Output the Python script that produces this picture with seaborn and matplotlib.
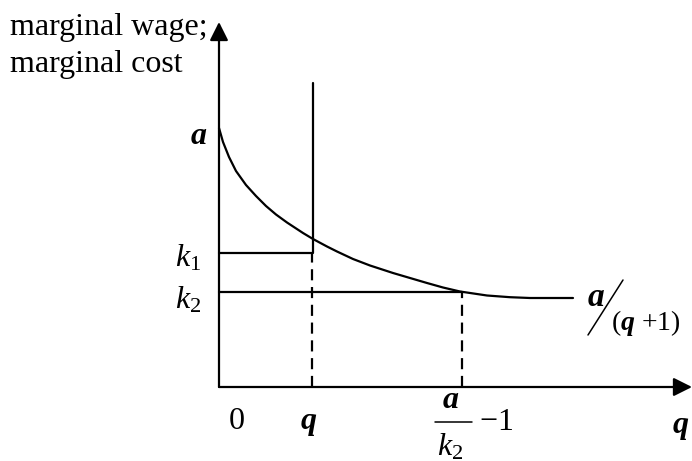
import matplotlib
matplotlib.use('Agg')
import matplotlib.pyplot as plt
import seaborn as sns
import pandas as pd

# curve (x = distance from vertical axis, y = height above horizontal axis)
curve_x = [0, 4, 10, 17, 27, 37, 47, 57, 68, 84, 94, 108, 118, 134, 151,
           174, 191, 208, 224, 241, 268, 291, 311, 354]
curve_y = [259, 245, 230, 216, 202, 191, 181, 172.5, 164.5, 154, 148, 140.5, 135.5, 128, 121.5,
           114, 109, 104, 99.5, 95.5, 91.5, 89.8, 89, 89]

q_val = 94        # theta
k1 = 134
k2 = 95
theta2 = 243      # alpha/k2 - 1
mc_top = 304      # top of the vertical marginal cost segment
x_end = 473
y_end = 365

sns.set_theme(style='white')
plt.rcParams['font.family'] = ['Liberation Serif', 'DejaVu Serif']
plt.rcParams['text.color'] = 'black'
plt.rcParams['mathtext.fontset'] = 'custom'
plt.rcParams['mathtext.rm'] = 'Liberation Serif'
plt.rcParams['mathtext.it'] = 'Liberation Serif:italic'
plt.rcParams['mathtext.bf'] = 'Liberation Serif:bold'
plt.rcParams['mathtext.bfit'] = 'Liberation Serif:italic:bold'

fig = plt.figure(figsize=(6.92, 4.61), dpi=100)
ax = fig.add_axes([0, 0, 1, 1])
ax.set_xlim(-219, 473)
ax.set_ylim(-74, 387)
ax.axis('off')

lw = 1.6
df_curve = pd.DataFrame({'x': curve_x, 'y': curve_y})
sns.lineplot(data=df_curve, x='x', y='y', color='black', lw=lw, ax=ax, sort=False)

# marginal cost: k1 up to theta, then vertical
ax.plot([0, q_val, q_val], [k1, k1, mc_top], color='black', lw=lw)
# k2 level
ax.plot([0, theta2], [k2, k2], color='black', lw=lw)
# dashed drop lines
ax.plot([q_val - 1, q_val - 1], [0, k1], color='black', lw=lw, ls=(0, (5, 3)))
ax.plot([theta2, theta2], [0, k2], color='black', lw=lw, ls=(0, (5, 3)))

# axes with arrows
arrow = dict(arrowstyle='-|>', mutation_scale=28, lw=lw, color='black', shrinkA=0, shrinkB=0)
ax.annotate('', xy=(x_end, 0), xytext=(0, 0), arrowprops=arrow, annotation_clip=False)
ax.annotate('', xy=(0, y_end), xytext=(0, 0), arrowprops=arrow, annotation_clip=False)

fs = 23
ax.text(-209, 352, 'marginal wage;', fontsize=fs, ha='left', va='baseline')
ax.text(-209, 315, 'marginal cost', fontsize=fs, ha='left', va='baseline')
ax.text(-12, 250, 'a', fontsize=fs, fontweight='bold', style='italic', ha='right', va='center')
ax.text(-18, 129, r'$k_1$', fontsize=fs, ha='right', va='center')
ax.text(-18, 87, r'$k_2$', fontsize=fs, ha='right', va='center')
ax.text(18, -34, '0', fontsize=fs, ha='center', va='center')
ax.text(90, -34, 'q', fontsize=fs, fontweight='bold', style='italic', ha='center', va='center')
ax.text(462, -38, 'q', fontsize=fs, fontweight='bold', style='italic', ha='center', va='center')

# alpha/k2 - 1 label, built as a stacked fraction
ax.text(232, -13, 'a', fontsize=fs, fontweight='bold', style='italic', ha='center', va='center')
ax.plot([216, 253], [-35, -35], color='black', lw=1.1, clip_on=False)
ax.text(231, -60, r'$k_2$', fontsize=fs, ha='center', va='center')
ax.text(277, -35, r'$-1$', fontsize=fs, ha='center', va='center')

# a/(q+1) label
ax.text(377, 90, 'a', fontsize=fs + 1, fontweight='bold', style='italic', ha='center', va='center')
ax.plot([369, 404], [52, 107], color='black', lw=1.1)
ax.text(427, 64, r'($\mathbfit{q}$ +1)', fontsize=20, ha='center', va='center')

fig.savefig('out.png', dpi=100)
